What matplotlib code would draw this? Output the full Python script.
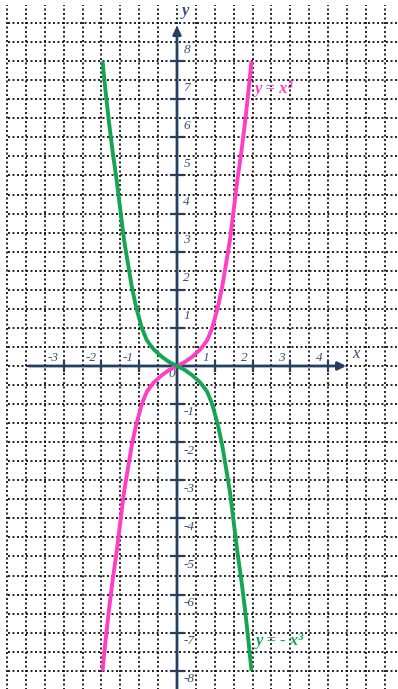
import numpy as np
import matplotlib
matplotlib.use("Agg")
from matplotlib import pyplot as plt

# data (right half; the left half is the mirror)
x_ticks = [-3, -2, -1, 1, 2, 3, 4]
y_ticks = [-8, -7, -6, -5, -4, -3, -2, -1, 1, 2, 3, 4, 5, 6, 7, 8]
half_x = [0, 0.2, 0.4, 0.6, 0.7, 0.8, 0.85, 0.9, 0.95, 1.0, 1.05, 1.1, 1.2, 1.3, 1.4,
          1.5, 1.6, 1.7, 1.8, 1.9, 1.97]
half_y = [0, 0.1, 0.24, 0.42, 0.54, 0.68, 0.8, 0.92, 1.07, 1.25, 1.43, 1.63, 2.1, 2.7, 3.3,
          4.1, 4.9, 5.6, 6.4, 7.3, 8.0]

hx = np.array(half_x)
hy = np.array(half_y)
curve_x = np.concatenate([-hx[:0:-1], hx])
cube_y = np.concatenate([-hy[:0:-1], hy])      # y = x^3
neg_cube_y = -cube_y                           # y = -x^3

axis_col = '#253f63'
lab_col = '#34507a'
pink = '#ff3ec6'
green = '#16a552'
serif = ['Liberation Serif', 'DejaVu Serif']

fig = plt.figure(figsize=(3.98, 6.89), dpi=100)
ax = fig.add_axes([0, 0, 1, 1])
ax.set_xlim(-4.683, 5.847)
ax.set_ylim(-8.478, 9.606)
ax.axis('off')

# dotted grid
for gx in np.arange(-4.5, 6.0, 0.5):
    ax.plot([gx, gx], [-8.6, 9.48], color='black', lw=1.2, ls=(0, (1.2, 1.5)), zorder=1)
for gy in np.arange(-8.0, 9.5, 0.5):
    ax.plot([-4.47, 6.0], [gy, gy], color='black', lw=1.2, ls=(0, (1.2, 1.5)), zorder=1)

# axes with arrows
ax.annotate('', xy=(4.55, 0), xytext=(-4.0, 0),
            arrowprops=dict(arrowstyle='-|>', color=axis_col, lw=2.0, mutation_scale=12), zorder=3)
ax.annotate('', xy=(0, 9.0), xytext=(0, -8.6),
            arrowprops=dict(arrowstyle='-|>', color=axis_col, lw=2.0, mutation_scale=12), zorder=3)
ax.text(4.63, 0.1, 'x', color=lab_col, fontsize=12, style='italic', family=serif,
        ha='left', va='bottom')
ax.text(0.12, 9.12, 'y', color=lab_col, fontsize=12, style='italic', weight='bold', family=serif,
        ha='left', va='bottom')

# ticks and labels
for t in x_ticks:
    ax.plot([t, t], [-0.14, 0.14], color=axis_col, lw=1.6, zorder=3)
    ax.text(t - 0.14, 0.05, str(t), color=lab_col, fontsize=9.5,
            style='italic', family=serif, ha='right', va='bottom')
for t in y_ticks:
    ax.plot([-0.15, 0.15], [t, t], color=axis_col, lw=1.6, zorder=3)
    yy = t + 0.3 if t > 0 else t - 0.22
    ax.text(0.17, yy, str(t), color=lab_col, fontsize=9.5,
            style='italic', family=serif, ha='left', va='center')
ax.text(-0.05, -0.2, '0', color=lab_col, fontsize=9.5, style='italic', family=serif,
        ha='right', va='center')

# curves
ax.plot(curve_x, cube_y, color=pink, lw=2.8, zorder=4, solid_capstyle='butt', solid_joinstyle='round')
ax.plot(curve_x, neg_cube_y, color=green, lw=2.8, zorder=5, solid_capstyle='butt', solid_joinstyle='round')

ax.text(2.05, 7.28, 'y = x³', color=pink, fontsize=12, style='italic', weight='bold',
        family=serif, ha='left', va='center')
ax.text(2.07, -7.22, 'y = - x³', color=green, fontsize=12, style='italic', weight='bold',
        family=serif, ha='left', va='center')

fig.savefig('out.png', dpi=100)
